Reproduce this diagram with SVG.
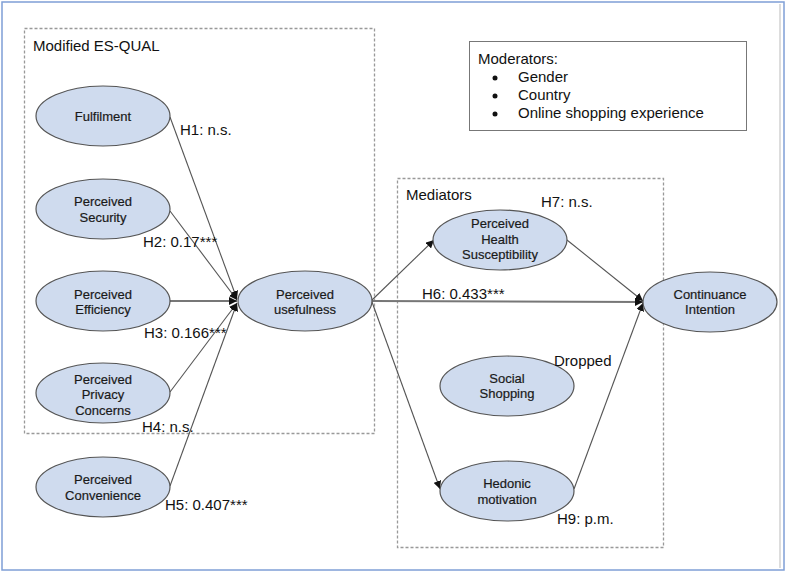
<svg xmlns="http://www.w3.org/2000/svg" width="790" height="573" viewBox="0 0 790 573">
<defs>
<marker id="arr" viewBox="0 0 10 10" refX="10" refY="5" markerWidth="8" markerHeight="8" markerUnits="userSpaceOnUse" orient="auto">
<path d="M0,0 L10,5 L0,10 z" fill="#111"/>
</marker>
</defs>
<style>
.node ellipse{fill:#cfdbee;stroke:#555;stroke-width:1.2}
.node text{font-family:"Liberation Sans",Arial,sans-serif;font-size:13px;fill:#1a1a1a;text-anchor:middle;stroke:#1a1a1a;stroke-width:0.2}
.lbl{font-family:"Liberation Sans",Arial,sans-serif;font-size:15px;fill:#111}
.grp{fill:none;stroke:#999;stroke-width:1.3;stroke-dasharray:3,2}
.conn line{stroke:#555;stroke-width:1.1;marker-end:url(#arr)}
.conn line.thick{stroke:#777;stroke-width:2}
</style>
<rect x="0" y="0" width="790" height="573" fill="#fff"/>
<rect x="2" y="2" width="782" height="568" fill="none" stroke="#7f9fd6" stroke-width="1.5"/>
<line x1="780" y1="4" x2="780" y2="568" stroke="#bbb" stroke-width="1"/>
<rect x="24.5" y="28.5" width="350" height="405" class="grp"/>
<rect x="397.5" y="178.5" width="266" height="369" class="grp"/>
<g id="moderators">
<rect x="469.5" y="41.5" width="277" height="89" fill="#fff" stroke="#777" stroke-width="1"/>
<text class="lbl" x="478" y="64">Moderators:</text>
<circle cx="495" cy="78" r="2.5" fill="#111"/>
<circle cx="495" cy="96" r="2.5" fill="#111"/>
<circle cx="495" cy="114" r="2.5" fill="#111"/>
<text class="lbl" x="518" y="82">Gender</text>
<text class="lbl" x="518" y="100">Country</text>
<text class="lbl" x="518" y="118">Online shopping experience</text>
</g>
<text class="lbl" x="33" y="51">Modified ES-QUAL</text>
<text class="lbl" x="406" y="200">Mediators</text>
<g class="conn" id="connectors">
<line x1="170" y1="117" x2="237" y2="299"/>
<line x1="170" y1="211" x2="237" y2="300"/>
<line class="thick" x1="170" y1="301" x2="237" y2="301"/>
<line x1="170" y1="392" x2="237" y2="303"/>
<line x1="170" y1="486" x2="237" y2="303"/>
<line x1="372" y1="300" x2="434" y2="240"/>
<line class="thick" x1="372" y1="301" x2="643" y2="302"/>
<line x1="372" y1="302" x2="440" y2="489"/>
<line x1="567" y1="240" x2="643" y2="301"/>
<line x1="574" y1="489" x2="643" y2="303"/>
</g>
<g id="n-fulfilment" class="node"><ellipse cx="103" cy="116" rx="67" ry="30"/><text x="103" y="121">Fulfilment</text></g>
<g id="n-security" class="node"><ellipse cx="103" cy="209" rx="67" ry="30"/><text x="103" y="206">Perceived</text><text x="103" y="222">Security</text></g>
<g id="n-efficiency" class="node"><ellipse cx="103" cy="301" rx="67" ry="30"/><text x="103" y="299">Perceived</text><text x="103" y="314">Efficiency</text></g>
<g id="n-privacy" class="node"><ellipse cx="103" cy="393" rx="67" ry="30"/><text x="103" y="384">Perceived</text><text x="103" y="399">Privacy</text><text x="103" y="415">Concerns</text></g>
<g id="n-convenience" class="node"><ellipse cx="103" cy="487" rx="67" ry="30"/><text x="103" y="484">Perceived</text><text x="103" y="500">Convenience</text></g>
<g id="n-usefulness" class="node"><ellipse cx="305" cy="301" rx="67" ry="30"/><text x="305" y="299">Perceived</text><text x="305" y="314">usefulness</text></g>
<g id="n-health" class="node"><ellipse cx="500" cy="240" rx="67" ry="30"/><text x="500" y="228">Perceived</text><text x="500" y="244">Health</text><text x="500" y="259">Susceptibility</text></g>
<g id="n-continuance" class="node"><ellipse cx="710" cy="302" rx="67" ry="30"/><text x="710" y="299">Continuance</text><text x="710" y="314">Intention</text></g>
<g id="n-social" class="node"><ellipse cx="507" cy="386" rx="67" ry="30"/><text x="507" y="383">Social</text><text x="507" y="398">Shopping</text></g>
<g id="n-hedonic" class="node"><ellipse cx="507" cy="491" rx="67" ry="30"/><text x="507" y="488">Hedonic</text><text x="507" y="504">motivation</text></g>
<g id="labels">
<text class="lbl" x="180" y="135">H1: n.s.</text>
<text class="lbl" x="143" y="247">H2: 0.17***</text>
<text class="lbl" x="144" y="338">H3: 0.166***</text>
<text class="lbl" x="142" y="432">H4: n.s.</text>
<text class="lbl" x="165" y="510">H5: 0.407***</text>
<text class="lbl" x="422" y="299">H6: 0.433***</text>
<text class="lbl" x="541" y="207">H7: n.s.</text>
<text class="lbl" x="554" y="366">Dropped</text>
<text class="lbl" x="557" y="524">H9: p.m.</text>
</g>
</svg>
